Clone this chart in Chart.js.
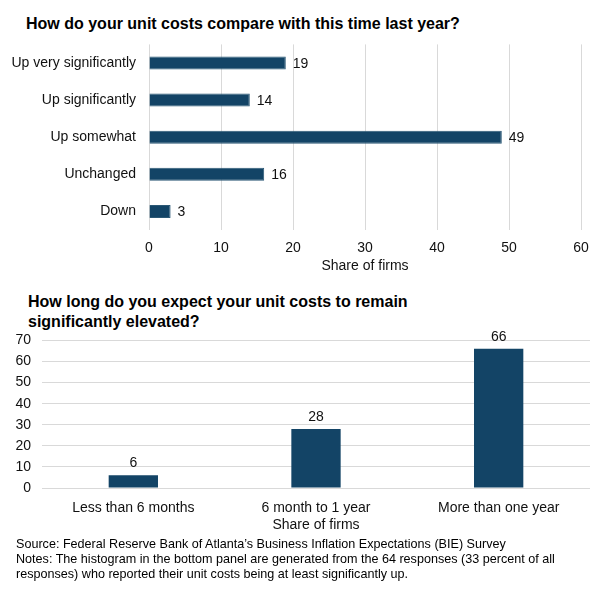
<!DOCTYPE html>
<html>
<head>
<meta charset="utf-8">
<script src="https://cdn.jsdelivr.net/npm/chart.js@4/dist/chart.umd.min.js"></script>
<style>
  body { margin: 0; width: 600px; height: 596px; background: #fff; position: relative; overflow: hidden;
         font-family: "Liberation Sans", Arial, sans-serif; color: #000; }
  .title { position: absolute; font-weight: bold; font-size: 16px; line-height: 20px; }
  #t1 { left: 26px; top: 14px; }
  #t2 { left: 28px; top: 292px; }
  .wrap { position: absolute; left: 0; width: 600px; }
  #w1 { top: 23px; height: 263px; }
  #w2 { top: 321px; height: 219px; }
  #notes { position: absolute; left: 16px; top: 537px; font-size: 12.6px; line-height: 15px; }
</style>
</head>
<body>
<div class="title" id="t1">How do your unit costs compare with this time last year?</div>
<div class="title" id="t2">How long do you expect your unit costs to remain<br>significantly elevated?</div>
<div class="wrap" id="w1"><canvas id="c1"></canvas></div>
<div class="wrap" id="w2"><canvas id="c2"></canvas></div>
<div id="notes">Source: Federal Reserve Bank of Atlanta’s Business Inflation Expectations (BIE) Survey<br>Notes: The histogram in the bottom panel are generated from the 64 responses (33 percent of all<br>responses) who reported their unit costs being at least significantly up.</div>

<script>
const costCategories = ["Up very significantly", "Up significantly", "Up somewhat", "Unchanged", "Down"];
const costShares = [19, 14, 49, 16, 3];

const durationCategories = ["Less than 6 months", "6 month to 1 year", "More than one year"];
const durationShares = [6, 28, 66];

const barColor = "#134466";
const gridColor = "#d9d9d9";
const font = { family: '"Liberation Sans", Arial, sans-serif', size: 14 };

Chart.defaults.color = "#111";
Chart.defaults.font = font;

// draws the value next to / above each bar
const valueLabels = {
  id: "valueLabels",
  afterDatasetsDraw(chart) {
    const ctx = chart.ctx;
    const horizontal = chart.options.indexAxis === "y";
    const meta = chart.getDatasetMeta(0);
    ctx.save();
    ctx.font = "14px " + font.family;
    ctx.fillStyle = "#111";
    meta.data.forEach((bar, i) => {
      const v = chart.data.datasets[0].data[i];
      ctx.textBaseline = "middle";
      if (horizontal) {
        ctx.textAlign = "left";
        ctx.fillText(v, bar.x + 7, bar.y + 1);
      } else {
        ctx.textAlign = "center";
        ctx.fillText(v, bar.x, bar.y - 12);
      }
    });
    ctx.restore();
  }
};

new Chart(document.getElementById("c1"), {
  type: "bar",
  data: {
    labels: costCategories,
    datasets: [{
      data: costShares,
      backgroundColor: barColor,
      borderColor: "#2b5875",
      borderWidth: 1,
      barPercentage: 0.7,
      categoryPercentage: 0.5
    }]
  },
  options: {
    indexAxis: "y",
    responsive: true,
    maintainAspectRatio: false,
    animation: false,
    layout: { padding: { top: 7, right: 19, bottom: 0, left: 0 } },
    plugins: { legend: { display: false }, tooltip: { enabled: false } },
    scales: {
      x: {
        min: 0, max: 60,
        ticks: { stepSize: 10, padding: 10 },
        grid: { color: gridColor, drawTicks: false },
        border: { display: false },
        title: { display: true, text: "Share of firms", padding: { top: 0, bottom: 11 } },
        afterFit(scale) { scale.height = 56; }
      },
      y: {
        ticks: { padding: 13 },
        grid: { display: false, drawTicks: false },
        border: { display: false },
        afterFit(scale) { scale.width = 149; }
      }
    }
  },
  plugins: [valueLabels]
});

new Chart(document.getElementById("c2"), {
  type: "bar",
  data: {
    labels: durationCategories,
    datasets: [{
      data: durationShares,
      backgroundColor: barColor,
      barPercentage: 0.54,
      categoryPercentage: 0.5
    }]
  },
  options: {
    responsive: true,
    maintainAspectRatio: false,
    animation: false,
    layout: { padding: { top: 9, right: 10, bottom: 0, left: 0 } },
    plugins: { legend: { display: false }, tooltip: { enabled: false } },
    scales: {
      x: {
        ticks: { padding: 12 },
        grid: { display: false, drawTicks: false },
        border: { display: false },
        title: { display: true, text: "Share of firms", padding: { top: 0, bottom: 6 } },
        afterFit(scale) { scale.height = 52; }
      },
      y: {
        min: 0, max: 70,
        ticks: { stepSize: 10, padding: 11 },
        grid: { color: gridColor, drawTicks: false },
        border: { display: false },
        afterFit(scale) { scale.width = 42; }
      }
    }
  },
  plugins: [valueLabels]
});
</script>
</body>
</html>
